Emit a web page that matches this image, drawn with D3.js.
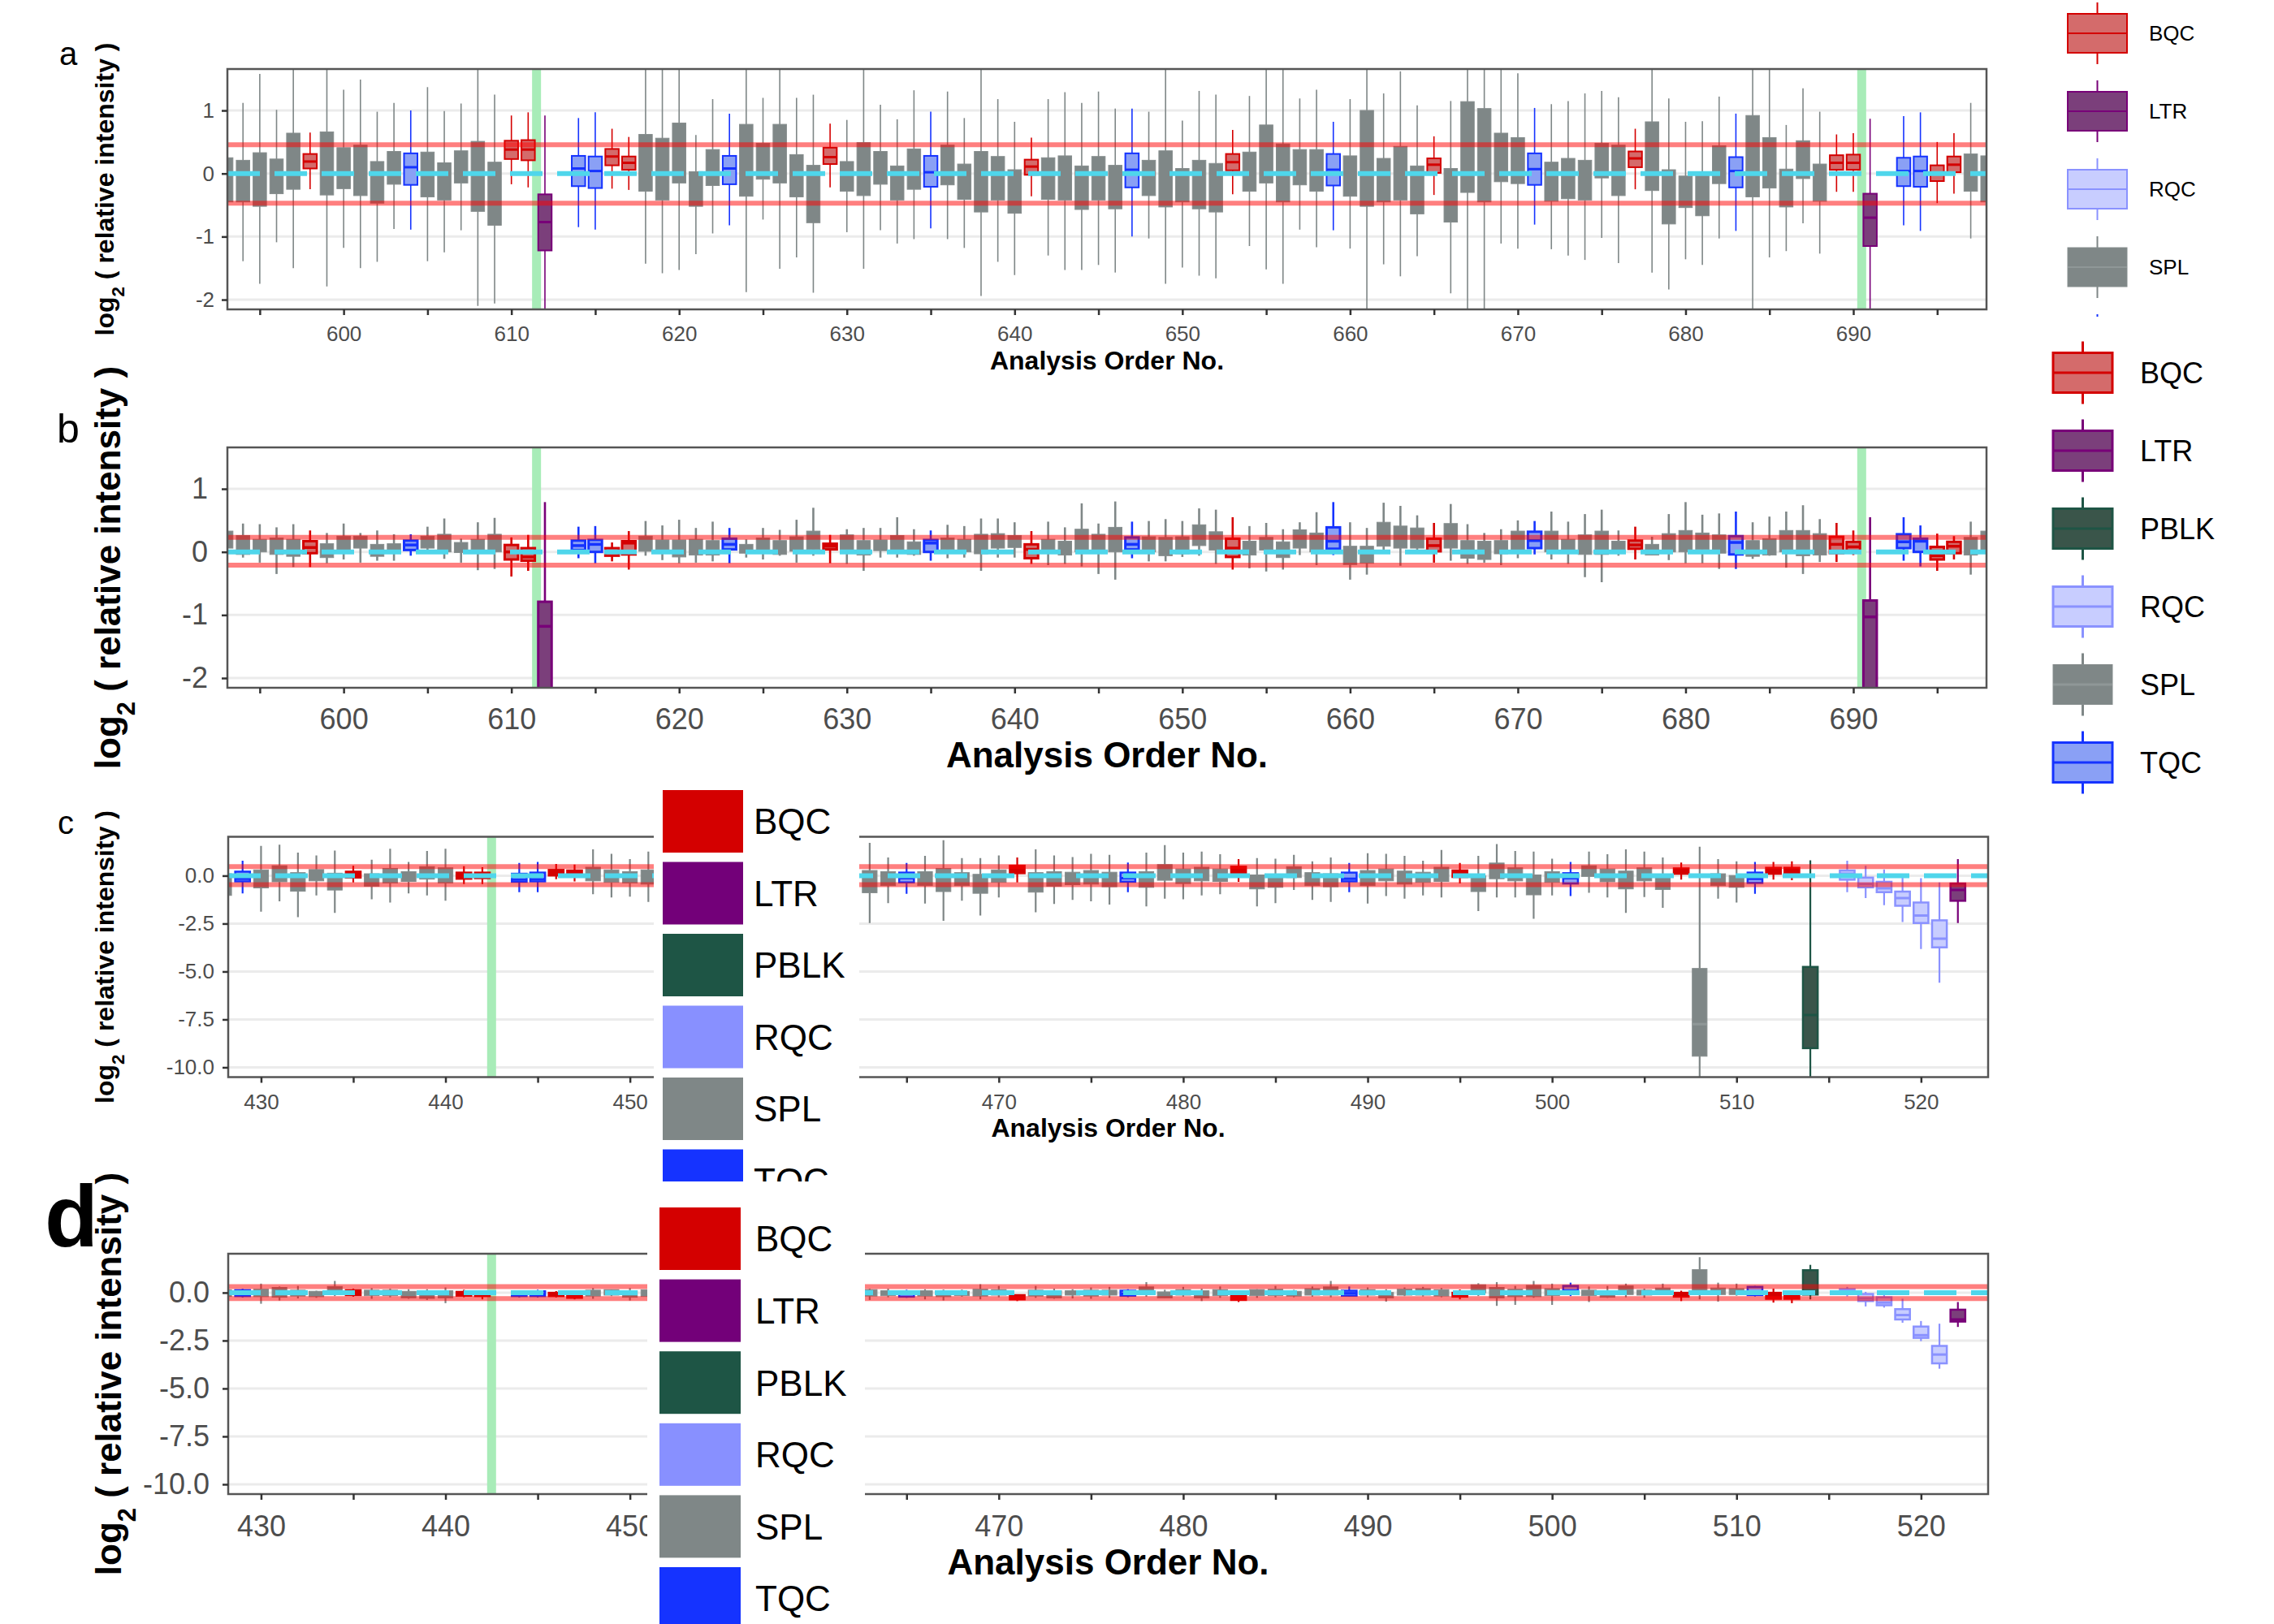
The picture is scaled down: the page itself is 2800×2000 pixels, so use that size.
<!DOCTYPE html>
<html>
<head>
<meta charset="utf-8">
<title>QC boxplots</title>
<style>
body{margin:0;background:#fff}
text{font-family:"Liberation Sans",Arial,Helvetica,sans-serif}
</style>
</head>
<body>
<div id="container"></div>
<script src="https://d3js.org/d3.v7.min.js"></script>
<script>
// rows: [order, type, low, q1, median, q3, high]
// types: B=BQC L=LTR P=PBLK R=RQC S=SPL T=TQC
var panelA = [
[593,"S",-1.2,-0.45,null,0.25,1.0],[594,"S",-1.39,-0.45,null,0.21,1.12],[595,"S",-1.75,-0.52,null,0.33,1.58],
[596,"S",-1.09,-0.32,null,0.23,1.01],[597,"S",-1.5,-0.25,null,0.64,1.8],[598,"B",-0.25,0.08,0.19,0.31,0.65],
[599,"S",-1.79,-0.34,null,0.66,1.8],[600,"S",-1.18,-0.24,null,0.41,1.33],[601,"S",-1.5,-0.35,null,0.45,1.49],
[602,"S",-1.4,-0.47,null,0.19,0.98],[603,"S",-0.88,-0.17,null,0.35,1.12],[604,"T",-0.89,-0.18,0.10,0.32,1.0],
[605,"S",-1.39,-0.37,null,0.34,1.37],[606,"S",-1.25,-0.42,null,0.17,0.99],[607,"S",-0.9,-0.15,null,0.36,1.11],
[608,"S",-2.1,-0.6,null,0.51,1.8],[609,"S",-2.06,-0.82,null,0.18,1.25],[610,"B",-0.17,0.23,0.38,0.52,0.92],
[611,"B",-0.22,0.21,0.38,0.53,0.97],[612,"L",-2.5,-1.22,-0.77,-0.33,0.92],[614,"T",-0.85,-0.2,0.08,0.28,0.88],
[615,"T",-0.89,-0.23,0.04,0.27,0.97],[616,"B",-0.24,0.13,0.27,0.39,0.71],[617,"B",-0.26,0.06,0.17,0.27,0.58],
[618,"S",-1.43,-0.28,null,0.62,1.8],[619,"S",-1.58,-0.42,null,0.56,1.8],[620,"S",-1.53,-0.15,null,0.8,1.8],
[621,"S",-1.28,-0.52,null,0.03,0.61],[622,"S",-0.95,-0.19,null,0.38,1.18],[623,"T",-0.82,-0.17,0.08,0.28,0.95],
[624,"S",-1.88,-0.36,null,0.78,1.8],[625,"S",-0.73,-0.09,null,0.48,1.2],[626,"S",-1.51,-0.15,null,0.78,1.8],
[627,"S",-1.33,-0.37,null,0.3,1.2],[628,"S",-1.89,-0.78,null,0.13,1.25],[629,"B",-0.22,0.15,0.26,0.41,0.79],
[630,"S",-0.93,-0.28,null,0.19,0.85],[631,"S",-1.51,-0.35,null,0.49,1.8],[632,"S",-0.9,-0.17,null,0.35,1.09],
[633,"S",-1.11,-0.42,null,0.12,0.86],[634,"S",-1.04,-0.25,null,0.39,1.32],[635,"T",-0.87,-0.21,0.02,0.28,0.98],
[636,"S",-1.04,-0.18,null,0.45,1.3],[637,"S",-1.18,-0.41,null,0.15,0.88],[638,"S",-1.94,-0.61,null,0.35,1.8],
[639,"S",-1.4,-0.42,null,0.27,1.18],[640,"S",-1.61,-0.63,null,0.06,0.82],[641,"B",-0.36,-0.02,0.11,0.22,0.57],
[642,"S",-1.3,-0.41,null,0.25,1.18],[643,"S",-1.53,-0.42,null,0.28,1.29],[644,"S",-1.53,-0.57,null,0.12,1.12],
[645,"S",-1.45,-0.42,null,0.27,1.3],[646,"S",-1.57,-0.56,null,0.13,1.03],[647,"T",-1.0,-0.22,0.06,0.32,1.03],
[648,"S",-1.03,-0.35,null,0.21,0.98],[649,"S",-1.75,-0.53,null,0.36,1.8],[650,"S",-1.49,-0.45,null,0.08,0.84],
[651,"S",-1.62,-0.56,null,0.21,1.31],[652,"S",-1.66,-0.61,null,0.16,1.25],[653,"B",-0.33,0.05,0.18,0.31,0.69],
[654,"S",-1.15,-0.28,null,0.34,1.23],[655,"S",-1.52,-0.15,null,0.77,1.8],[656,"S",-1.75,-0.45,null,0.47,1.8],
[657,"S",-0.89,-0.18,null,0.38,1.19],[658,"S",-1.17,-0.28,null,0.38,1.33],[659,"T",-0.9,-0.19,0.06,0.31,0.82],
[660,"S",-1.19,-0.36,null,0.28,1.18],[661,"S",-2.5,-0.52,null,1.0,1.8],[662,"S",-1.44,-0.45,null,0.24,1.27],
[663,"S",-1.63,-0.42,null,0.43,1.62],[664,"S",-1.31,-0.64,null,0.12,1.08],[665,"B",-0.34,0.01,0.14,0.24,0.59],
[666,"S",-1.9,-0.77,null,0.08,1.15],[667,"S",-2.5,-0.3,null,1.14,1.8],[668,"S",-2.5,-0.45,null,1.03,1.8],
[669,"S",-1.11,-0.13,null,0.64,1.8],[670,"S",-1.19,-0.16,null,0.57,1.59],[671,"T",-0.81,-0.18,0.07,0.32,1.04],
[672,"S",-1.2,-0.44,null,0.18,1.1],[673,"S",-1.3,-0.4,null,0.24,1.15],[674,"S",-1.37,-0.42,null,0.21,1.27],
[675,"S",-1.02,-0.07,null,0.48,1.31],[676,"S",-1.42,-0.35,null,0.45,1.21],[677,"B",-0.25,0.1,0.24,0.35,0.71],
[678,"S",-1.57,-0.27,null,0.82,1.8],[679,"S",-1.84,-0.8,null,0.06,1.19],[680,"S",-1.36,-0.54,null,-0.04,0.82],
[681,"S",-1.45,-0.67,null,-0.03,0.83],[682,"S",-1.03,-0.16,null,0.44,1.22],[683,"T",-0.91,-0.22,0.04,0.26,0.95],
[684,"S",-2.5,-0.37,null,0.92,1.8],[685,"S",-1.33,-0.23,null,0.57,1.8],[686,"S",-1.23,-0.53,null,0.07,0.77],
[687,"S",-0.79,-0.08,null,0.52,1.35],[688,"S",-1.27,-0.44,null,0.15,0.98],[689,"B",-0.29,0.06,0.17,0.29,0.62],
[690,"B",-0.29,0.06,0.17,0.3,0.64],[691,"L",-2.5,-1.15,-0.7,-0.32,0.87],[693,"T",-0.82,-0.2,0.04,0.25,0.91],
[694,"T",-0.91,-0.21,0.04,0.27,0.97],[695,"B",-0.47,-0.12,0.01,0.13,0.5],[696,"B",-0.32,0.02,0.14,0.27,0.64],
[697,"S",-1.03,-0.28,null,0.31,1.12],[698,"S",-1.2,-0.45,null,0.28,1.1]
]

var panelB = [
[593,"S",-0.1,0.06,null,0.33,0.45],[594,"S",-0.09,-0.04,null,0.26,0.45],[595,"S",-0.17,0,null,0.2,0.44],
[596,"S",-0.35,-0.04,null,0.22,0.39],[597,"S",-0.24,-0.07,null,0.2,0.44],[598,"B",-0.24,-0.02,0.07,0.17,0.34],
[599,"S",-0.18,-0.09,null,0.13,0.3],[600,"S",-0.12,0,null,0.25,0.45],[601,"S",-0.17,0.06,null,0.25,0.3],
[602,"S",-0.14,-0.07,null,0.12,0.34],[603,"S",-0.14,-0.02,null,0.13,0.28],[604,"T",-0.06,0.03,0.11,0.18,0.28],
[605,"S",0,0.06,null,0.25,0.4],[606,"S",-0.11,0,null,0.28,0.53],[607,"S",-0.17,-0.01,null,0.15,0.21],
[608,"S",-0.29,0,null,0.2,0.47],[609,"S",-0.27,0,null,0.28,0.54],[610,"B",-0.39,-0.12,0,0.11,0.23],
[611,"B",-0.3,-0.14,-0.08,0.06,0.27],[612,"L",-2.5,-2.5,-1.18,-0.79,0.79],[614,"T",-0.1,0.03,0.1,0.18,0.4],
[615,"T",-0.18,0,0.12,0.19,0.41],[616,"B",-0.15,-0.06,0,0.06,0.15],[617,"B",-0.28,-0.04,0.14,0.17,0.33],
[618,"S",-0.06,0.01,null,0.25,0.49],[619,"S",-0.13,-0.01,null,0.19,0.42],[620,"S",-0.18,-0.08,null,0.19,0.51],
[621,"S",-0.17,-0.05,null,0.2,0.38],[622,"S",-0.15,-0.05,null,0.18,0.48],[623,"T",-0.18,0.04,0.12,0.21,0.38],
[624,"S",-0.09,-0.02,null,0.12,0.2],[625,"S",-0.12,0,null,0.22,0.38],[626,"S",-0.06,-0.04,null,0.18,0.35],
[627,"S",-0.17,0.01,null,0.24,0.51],[628,"S",-0.06,0.04,null,0.33,0.7],[629,"B",-0.18,0.04,0.09,0.13,0.27],
[630,"S",-0.19,0,null,0.27,0.36],[631,"S",-0.3,-0.05,null,0.18,0.38],[632,"S",-0.09,0.02,null,0.19,0.38],
[633,"S",-0.09,0.02,null,0.26,0.55],[634,"S",-0.06,-0.04,null,0.16,0.36],[635,"T",-0.14,0,0.14,0.19,0.34],
[636,"S",-0.1,0.04,null,0.22,0.43],[637,"S",-0.09,0,null,0.2,0.41],[638,"S",-0.3,-0.03,null,0.28,0.53],
[639,"S",-0.09,0.06,null,0.29,0.53],[640,"S",-0.09,0.07,null,0.26,0.47],[641,"B",-0.19,-0.1,0.04,0.12,0.33],
[642,"S",-0.21,0,null,0.2,0.48],[643,"S",-0.19,-0.05,null,0.17,0.39],[644,"S",-0.23,0,null,0.36,0.77],
[645,"S",-0.35,0,null,0.28,0.45],[646,"S",-0.44,0,null,0.39,0.8],[647,"T",-0.1,0.04,0.12,0.23,0.48],
[648,"S",-0.15,0,null,0.24,0.49],[649,"S",-0.15,-0.06,null,0.23,0.52],[650,"S",-0.08,-0.03,null,0.24,0.49],
[651,"S",-0.06,0.1,null,0.43,0.69],[652,"S",-0.19,0.03,null,0.32,0.67],[653,"B",-0.28,-0.08,0.06,0.21,0.55],
[654,"S",-0.26,-0.05,null,0.17,0.41],[655,"S",-0.31,0.03,null,0.23,0.46],[656,"S",-0.28,-0.09,null,0.16,0.36],
[657,"S",-0.05,0.06,null,0.35,0.47],[658,"S",-0.21,0,null,0.3,0.63],[659,"T",-0.05,0.05,0.17,0.39,0.79],
[660,"S",-0.44,-0.2,null,0.09,0.47],[661,"S",-0.36,-0.18,null,0.09,0.38],[662,"S",0.01,0.09,null,0.47,0.78],
[663,"S",-0.22,0.06,null,0.41,0.73],[664,"S",-0.02,0.06,null,0.38,0.58],[665,"B",-0.17,0.01,0.1,0.21,0.46],
[666,"S",-0.14,0.06,null,0.45,0.76],[667,"S",-0.19,-0.1,null,0.18,0.44],[668,"S",-0.17,-0.12,null,0.17,0.3],
[669,"S",-0.21,-0.03,null,0.18,0.36],[670,"S",-0.1,0,null,0.33,0.5],[671,"T",-0.04,0.06,0.18,0.32,0.49],
[672,"S",-0.12,0,null,0.33,0.64],[673,"S",-0.19,-0.01,null,0.2,0.48],[674,"S",-0.4,-0.04,null,0.27,0.6],
[675,"S",-0.48,-0.04,null,0.33,0.67],[676,"S",-0.06,0,null,0.17,0.34],[677,"B",-0.12,0.05,0.11,0.18,0.4],
[678,"S",-0.05,-0.05,null,0.12,0.24],[679,"S",-0.13,0,null,0.29,0.6],[680,"S",-0.18,0,null,0.34,0.79],
[681,"S",-0.18,0.04,null,0.3,0.59],[682,"S",-0.27,-0.02,null,0.27,0.61],[683,"T",-0.27,-0.04,0.15,0.25,0.64],
[684,"S",-0.11,-0.07,null,0.18,0.47],[685,"S",-0.06,-0.05,null,0.21,0.56],[686,"S",-0.25,0,null,0.34,0.64],
[687,"S",-0.35,-0.06,null,0.34,0.74],[688,"S",-0.16,-0.05,null,0.29,0.52],[689,"B",-0.16,-0.02,0.12,0.24,0.46],
[690,"B",-0.05,0,0.08,0.16,0.34],[691,"L",-2.5,-2.5,-1.03,-0.77,0.55],[693,"T",-0.14,0.06,0.16,0.28,0.55],
[694,"T",-0.23,0,0.17,0.21,0.42],[695,"B",-0.3,-0.12,-0.06,0.08,0.29],[696,"B",-0.12,-0.02,0.09,0.16,0.25],
[697,"S",-0.36,-0.05,null,0.23,0.48],[698,"S",-0.2,0,null,0.33,0.5]
]

var panelC = [
[428,"S",-1.6,-1.03,null,0.1,0.6],[429,"T",-0.92,-0.3,-0.16,0.21,0.78],[430,"S",-1.88,-0.64,null,0.3,1.55],
[431,"S",-1.34,-0.32,null,0.52,1.62],[432,"S",-2.16,-0.81,null,0.16,1.2],[433,"S",-1.03,-0.27,null,0.32,1.06],
[434,"S",-1.94,-0.75,null,0.13,1.31],[435,"B",-0.35,-0.1,0.05,0.21,0.52],[436,"S",-1.23,-0.55,null,0.1,0.83],
[437,"S",-1.4,-0.38,null,0.38,1.4],[438,"S",-0.92,-0.3,null,0.21,0.72],[439,"S",-1.03,-0.18,null,0.47,1.29],
[440,"S",-1.31,-0.38,null,0.41,1.4],[441,"B",-0.44,-0.16,0,0.16,0.49],[442,"B",-0.44,-0.13,0.02,0.16,0.44],
[444,"T",-0.86,-0.32,-0.21,0.1,0.66],[445,"T",-0.86,-0.3,-0.18,0.16,0.72],[446,"B",-0.18,0.01,0.15,0.3,0.61],
[447,"B",-0.3,0.07,0.17,0.27,0.58],[448,"S",-0.97,-0.27,null,0.44,1.37],[449,"S",-1.14,-0.35,null,0.3,1.14],
[450,"S",-1.09,-0.38,null,0.21,0.86],[451,"S",-1.37,-0.44,null,0.3,1.26],
[463,"S",-2.47,-0.89,null,0.27,1.71],[464,"S",-1.43,-0.52,null,0.21,0.95],[465,"T",-0.95,-0.35,-0.13,0.16,0.66],
[466,"S",-1.45,-0.52,null,0.21,1.03],[467,"S",-2.36,-0.83,null,0.38,1.85],[468,"S",-1.31,-0.52,null,0.16,0.92],
[469,"S",-2.08,-0.92,null,0.07,0.92],[470,"S",-1.14,-0.35,null,0.3,1.06],[471,"B",-0.35,0.13,0.3,0.52,0.95],
[472,"S",-1.91,-0.86,null,0.16,1.37],[473,"S",-1.48,-0.55,null,0.21,1.06],[474,"S",-1.26,-0.47,null,0.18,0.97],
[475,"S",-1.34,-0.44,null,0.27,1.14],[476,"S",-1.51,-0.58,null,0.18,1.09],[477,"T",-0.86,-0.32,-0.13,0.16,0.69],
[478,"S",-1.6,-0.61,null,0.21,1.2],[479,"S",-1.2,-0.24,null,0.58,1.6],[480,"S",-1.23,-0.41,null,0.35,1.2],
[481,"S",-1.03,-0.27,null,0.44,1.26],[482,"S",-0.97,-0.3,null,0.35,1.12],[483,"B",-0.32,0.1,0.3,0.47,0.86],
[484,"S",-1.6,-0.69,null,0.04,0.92],[485,"S",-1.43,-0.61,null,0.07,0.89],[486,"S",-0.75,-0.1,null,0.47,1.09],
[487,"S",-1.26,-0.52,null,0.16,0.75],[488,"S",-1.37,-0.58,null,0.1,0.95],[489,"T",-0.86,-0.3,-0.16,0.16,0.66],
[490,"S",-1.45,-0.52,null,0.27,1.17],[491,"S",-1.06,-0.27,null,0.35,1.14],[492,"S",-1.2,-0.44,null,0.24,1.03],
[493,"S",-1.03,-0.35,null,0.18,0.78],[494,"S",-1.14,-0.3,null,0.44,1.34],[495,"B",-0.41,-0.07,0.1,0.27,0.66],
[496,"S",-1.85,-0.83,null,-0.01,1.03],[497,"S",-1.14,-0.16,null,0.66,1.65],[498,"S",-1.14,-0.27,null,0.41,1.29],
[499,"S",-2.25,-1.0,null,0.04,1.26],[500,"S",-1.03,-0.35,null,0.21,0.89],[501,"T",-1.06,-0.41,-0.13,0.13,0.72],
[502,"S",-0.89,-0.04,null,0.52,1.26],[503,"S",-1.14,-0.32,null,0.35,1.12],[504,"S",-1.94,-0.69,null,0.24,1.37],
[505,"S",-1.12,-0.27,null,0.41,1.26],[506,"S",-1.68,-0.72,null,0.01,0.95],[507,"B",-0.21,0.1,0.25,0.38,0.69],
[508,"S",-10.8,-9.42,-7.75,-4.84,1.51],[509,"S",-1.2,-0.52,null,0.1,0.86],[510,"S",-1.4,-0.61,null,0.01,0.75],
[511,"T",-0.95,-0.38,-0.16,0.16,0.72],[512,"B",-0.21,0.1,0.25,0.41,0.72],[513,"B",-0.24,0.1,0.25,0.41,0.75],
[514,"P",-10.8,-9.0,-7.27,-4.76,0.8],[516,"R",-0.86,-0.21,0.1,0.27,0.78],[517,"R",-1.17,-0.61,-0.44,-0.1,0.52],
[518,"R",-1.54,-0.86,-0.66,-0.32,0.32],[519,"R",-2.42,-1.57,-1.17,-0.83,0.07],[520,"R",-3.83,-2.47,-2.08,-1.4,-0.13],
[521,"R",-5.58,-3.74,-3.29,-2.33,-0.35],[522,"L",-2.47,-1.31,-0.75,-0.41,0.86]
]

var panelD = [
[428,"S",-0.3,-0.2,null,0.15,0.3],[429,"T",-0.25,-0.18,-0.1,0.13,0.2],[430,"S",-0.58,-0.21,null,0.18,0.47],
[431,"S",-0.41,-0.24,null,0.27,0.32],[432,"S",-0.3,-0.18,null,0.13,0.35],[433,"S",-0.27,-0.21,null,0.07,0.1],
[434,"S",-0.18,-0.07,null,0.32,0.61],[435,"B",-0.21,-0.13,0,0.13,0.21],[436,"S",-0.32,-0.16,null,0.13,0.24],
[437,"S",-0.24,-0.16,null,0.13,0.21],[438,"S",-0.32,-0.27,null,0.07,0.18],[439,"S",-0.38,-0.3,null,0.1,0.18],
[440,"S",-0.55,-0.27,null,0.1,0.27],[441,"B",-0.24,-0.16,-0.05,0.04,0.15],[442,"B",-0.35,-0.18,-0.1,-0.04,0.1],
[444,"T",-0.25,-0.18,-0.1,0.04,0.12],[445,"T",-0.25,-0.18,-0.08,0.07,0.15],[446,"B",-0.25,-0.18,-0.1,-0.01,0.08],
[447,"B",-0.35,-0.27,-0.18,-0.1,0.1],[448,"S",-0.32,-0.18,null,0.13,0.24],[449,"S",-0.18,-0.13,null,0.16,0.16],
[450,"S",-0.41,-0.24,null,0.1,0.24],[451,"S",-0.35,-0.2,null,0.15,0.3],
[463,"S",-0.38,-0.18,null,0.16,0.21],[464,"S",-0.24,-0.16,null,0.1,0.21],[465,"T",-0.27,-0.21,-0.05,0.07,0.15],
[466,"S",-0.35,-0.18,null,0.1,0.18],[467,"S",-0.41,-0.21,null,0.04,0.16],[468,"S",-0.21,-0.16,null,0.07,0.16],
[469,"S",-0.35,-0.18,null,0.18,0.44],[470,"S",-0.24,-0.13,null,0.16,0.35],[471,"B",-0.44,-0.35,-0.25,-0.13,-0.13],
[472,"S",-0.27,-0.18,null,0.13,0.35],[473,"S",-0.32,-0.27,null,0.1,0.21],[474,"S",-0.3,-0.13,null,0.1,0.18],
[475,"S",-0.32,-0.18,null,0.13,0.27],[476,"S",-0.27,-0.13,null,0.13,0.3],[477,"T",-0.24,-0.16,-0.05,0.1,0.18],
[478,"S",-0.21,-0.1,null,0.3,0.55],[479,"S",-0.27,-0.27,null,0.04,0.15],[480,"S",-0.21,-0.13,null,0.16,0.3],
[481,"S",-0.44,-0.27,null,0.1,0.21],[482,"S",-0.27,-0.16,null,0.16,0.32],[483,"B",-0.49,-0.38,-0.2,-0.04,0.1],
[484,"S",-0.27,-0.16,null,0.16,0.18],[485,"S",-0.24,-0.16,null,0.18,0.35],[486,"S",-0.24,-0.18,null,0.07,0.15],
[487,"S",-0.21,-0.13,null,0.21,0.32],[488,"S",-0.24,-0.13,null,0.3,0.61],[489,"T",-0.21,-0.16,-0.03,0.1,0.32],
[490,"S",-0.24,-0.13,null,0.16,0.27],[491,"S",-0.47,-0.27,null,0.01,0.18],[492,"S",-0.18,-0.13,null,0.18,0.27],
[493,"S",-0.2,-0.13,null,0.21,0.3],[494,"S",-0.24,-0.18,null,0.16,0.24],[495,"B",-0.35,-0.21,-0.1,-0.01,0.16],
[496,"S",-0.18,-0.01,null,0.41,0.49],[497,"S",-0.69,-0.27,null,0.27,0.55],[498,"S",-0.64,-0.21,null,0.18,0.35],
[499,"S",-0.27,-0.21,null,0.38,0.61],[500,"S",-0.64,-0.16,null,0.21,0.47],[501,"T",-0.18,-0.07,0.1,0.35,0.52],
[502,"S",-0.49,-0.16,null,0.13,0.32],[503,"S",-0.27,-0.24,null,0.1,0.35],[504,"S",-0.24,-0.1,null,0.35,0.47],
[505,"S",-0.27,-0.13,null,0.13,0.21],[506,"S",-0.13,-0.1,null,0.24,0.47],[507,"B",-0.44,-0.21,-0.1,-0.01,0.1],
[508,"S",-0.35,-0.07,null,1.2,1.85],[509,"S",-0.47,-0.1,null,0.24,0.52],[510,"S",-0.16,-0.1,null,0.21,0.47],
[511,"T",-0.2,-0.13,0.05,0.3,0.35],[512,"B",-0.52,-0.32,-0.15,-0.01,0.21],[513,"B",-0.55,-0.32,-0.2,-0.13,0.01],
[514,"P",-0.35,-0.1,null,1.17,1.45],[516,"R",-0.2,0.04,0.1,0.18,0.3],[517,"R",-0.72,-0.44,-0.3,-0.07,0.04],
[518,"R",-0.78,-0.66,-0.52,-0.24,-0.13],[519,"R",-1.57,-1.4,-1.17,-0.86,-0.32],[520,"R",-2.53,-2.36,-2.22,-1.77,-1.48],
[521,"R",-3.97,-3.69,-3.23,-2.78,-1.62],[522,"L",-1.79,-1.51,-1.4,-0.89,-0.49]
]

// red control limits per panel
var limitsA = [0.455, -0.47]
var limitsB = [0.23, -0.21]
var limitsC = [0.47, -0.47]
var limitsD = [0.31, -0.31]
// batch break positions (green)
var breaksAB = [611.5, 690.5]
var breaksCD = [442.5]
// tick values
var yTicksAB = [-2, -1, 0, 1]
var yTicksCD = [-10, -7.5, -5, -2.5, 0]
var xTicksAB = [595,600,605,610,615,620,625,630,635,640,645,650,655,660,665,670,675,680,685,690,695]
var xTicksCD = [430,435,440,445,450,455,460,465,470,475,480,485,490,495,500,505,510,515,520]
var xLabelsHiddenCD = [460]   // sits under the overlaid legend
// legends
var legendTopA = ["BQC","LTR","RQC","SPL","TQC"]
var legendTopB = ["BQC","LTR","PBLK","RQC","SPL","TQC"]
var legendFlat = ["BQC","LTR","PBLK","RQC","SPL","TQC"]

var codeName = {B:"BQC",L:"LTR",P:"PBLK",R:"RQC",S:"SPL",T:"TQC"}
var boxStyleAB = {
  BQC:{fill:"#d46b6b",stroke:"#d40000",med:"#d40000"},
  LTR:{fill:"#7b3f7b",stroke:"#780078",med:"#780078"},
  PBLK:{fill:"#3a554a",stroke:"#1e5545",med:"#1e5545"},
  RQC:{fill:"#c8cdff",stroke:"#8a92ff",med:"#8a92ff"},
  SPL:{fill:"#7f8787",stroke:"#868d8d",med:"#8f9797"},
  TQC:{fill:"#8aa0f5",stroke:"#1533ff",med:"#1533ff"}
}
var boxStyleCD = {
  BQC:{fill:"#d40000",stroke:"#d40000",med:"#d40000"},
  LTR:{fill:"#7b3f7b",stroke:"#780078",med:"#780078"},
  PBLK:{fill:"#3a554a",stroke:"#1e5545",med:"#1e5545"},
  RQC:{fill:"#c8cdff",stroke:"#8a92ff",med:"#8a92ff"},
  SPL:{fill:"#7f8787",stroke:"#868d8d",med:"#8f9797"},
  TQC:{fill:"#8aa0f5",stroke:"#1533ff",med:"#1533ff"}
}
var flatColor = {BQC:"#d40000",LTR:"#730079",PBLK:"#1e5545",RQC:"#8890ff",SPL:"#7f8787",TQC:"#1533ff"}

var FONT = '"Liberation Sans",Arial,Helvetica,sans-serif'

var svg = d3.select('#container').append('svg')
  .attr('width', 2800).attr('height', 2000)
svg.append('rect').attr('width', 2800).attr('height', 2000).attr('fill', '#fff')
var defs = svg.append('defs')

function drawPanel(cfg) {
  var x = d3.scaleLinear().domain(cfg.xDomain).range([cfg.x0, cfg.x1])
  var y = d3.scaleLinear().domain(cfg.yDomain).range([cfg.y1, cfg.y0])
  var g = svg.append('g')
  var hidden = cfg.hideLabels || []

  defs.append('clipPath').attr('id', 'clip-' + cfg.id)
    .append('rect')
    .attr('x', cfg.x0).attr('y', cfg.y0)
    .attr('width', cfg.x1 - cfg.x0).attr('height', cfg.y1 - cfg.y0)
  var plot = g.append('g').attr('clip-path', 'url(#clip-' + cfg.id + ')')

  // grid
  plot.selectAll('.grid').data(cfg.yTicks).enter().append('line')
    .attr('x1', cfg.x0).attr('x2', cfg.x1)
    .attr('y1', function(d){ return y(d) }).attr('y2', function(d){ return y(d) })
    .attr('stroke', '#ebebeb').attr('stroke-width', 3)

  // batch breaks
  plot.selectAll('.brk').data(cfg.breaks).enter().append('line')
    .attr('x1', function(d){ return x(d) }).attr('x2', function(d){ return x(d) })
    .attr('y1', cfg.y0).attr('y2', cfg.y1)
    .attr('stroke', '#a8ecb8').attr('stroke-width', 11)

  var hw = x(cfg.xDomain[0] + 0.4) - x(cfg.xDomain[0])
  var st = cfg.styles

  var box = plot.selectAll('.box').data(cfg.rows).enter().append('g')
  box.append('line')
    .attr('x1', function(d){ return x(d[0]) }).attr('x2', function(d){ return x(d[0]) })
    .attr('y1', function(d){ return y(d[2]) }).attr('y2', function(d){ return y(d[6]) })
    .attr('stroke', function(d){ return d[1] === 'S' ? '#7f8787' : st[codeName[d[1]]].stroke })
    .attr('stroke-width', cfg.whiskerW)
  box.append('rect')
    .attr('x', function(d){ return x(d[0]) - hw })
    .attr('width', 2 * hw)
    .attr('y', function(d){ return y(d[5]) })
    .attr('height', function(d){ return Math.max(1, y(d[3]) - y(d[5])) })
    .attr('fill', function(d){ return st[codeName[d[1]]].fill })
    .attr('stroke', function(d){ return st[codeName[d[1]]].stroke })
    .attr('stroke-width', function(d){ return d[1] === 'S' ? 1 : cfg.boxW })
  box.filter(function(d){ return d[4] !== null }).append('line')
    .attr('x1', function(d){ return x(d[0]) - hw }).attr('x2', function(d){ return x(d[0]) + hw })
    .attr('y1', function(d){ return y(d[4]) }).attr('y2', function(d){ return y(d[4]) })
    .attr('stroke', function(d){ return st[codeName[d[1]]].med })
    .attr('stroke-width', cfg.medW)

  // control limits
  plot.selectAll('.lim').data(cfg.limits).enter().append('line')
    .attr('x1', cfg.x0).attr('x2', cfg.x1)
    .attr('y1', function(d){ return y(d) }).attr('y2', function(d){ return y(d) })
    .attr('stroke', '#ff0000').attr('stroke-opacity', 0.5).attr('stroke-width', 6)

  // zero reference
  plot.append('line')
    .attr('x1', cfg.x0).attr('x2', cfg.x1).attr('y1', y(0)).attr('y2', y(0))
    .attr('stroke', '#4fd6eb').attr('stroke-width', 6).attr('stroke-dasharray', '40,18')

  // frame
  g.append('rect')
    .attr('x', cfg.x0).attr('y', cfg.y0)
    .attr('width', cfg.x1 - cfg.x0).attr('height', cfg.y1 - cfg.y0)
    .attr('fill', 'none').attr('stroke', '#555').attr('stroke-width', 2.5)

  // axes
  var xa = g.append('g').attr('transform', 'translate(0,' + cfg.y1 + ')')
    .call(d3.axisBottom(x).tickValues(cfg.xTicks).tickSize(7).tickPadding(cfg.xPad)
      .tickFormat(function(d){ return (d % 10 === 0 && hidden.indexOf(d) < 0) ? String(d) : '' }))
  xa.select('.domain').remove()
  xa.selectAll('line').attr('stroke', '#333').attr('stroke-width', 2.5)
  xa.selectAll('text').attr('font-size', cfg.tickFont).attr('fill', '#4d4d4d').attr('font-family', FONT)

  var ya = g.append('g').attr('transform', 'translate(' + cfg.x0 + ',0)')
    .call(d3.axisLeft(y).tickValues(cfg.yTicks).tickSize(7).tickPadding(cfg.yPad)
      .tickFormat(cfg.yFmt))
  ya.select('.domain').remove()
  ya.selectAll('line').attr('stroke', '#333').attr('stroke-width', 2.5)
  ya.selectAll('text').attr('font-size', cfg.tickFont).attr('fill', '#4d4d4d').attr('font-family', FONT)

  // titles
  g.append('text')
    .attr('x', (cfg.x0 + cfg.x1) / 2).attr('y', cfg.titleY)
    .attr('text-anchor', 'middle').attr('font-weight', 'bold')
    .attr('font-size', cfg.titleFont).attr('fill', '#000')
    .text('Analysis Order No.')

  var yt = g.append('text')
    .attr('transform', 'translate(' + cfg.yTitleX + ',' + ((cfg.y0 + cfg.y1) / 2) + ') rotate(-90)')
    .attr('text-anchor', 'middle').attr('font-weight', 'bold')
    .attr('font-size', cfg.titleFont).attr('fill', '#000')
  yt.append('tspan').text('log')
  yt.append('tspan').attr('font-size', cfg.titleFont * 0.7).attr('baseline-shift', 'sub').text('2')
  yt.append('tspan').text(' ( relative intensity )')

  // panel letter
  svg.append('text')
    .attr('x', cfg.letterX).attr('y', cfg.letterY)
    .attr('font-size', cfg.letterSize)
    .attr('font-weight', cfg.letterBold ? 'bold' : 'normal')
    .attr('fill', '#000')
    .text(cfg.letter)
}

function fmtInt(d){ return String(d) }
function fmtOne(d){ return d.toFixed(1) }

drawPanel({id:'a', rows:panelA, limits:limitsA, breaks:breaksAB, yTicks:yTicksAB, xTicks:xTicksAB, yFmt:fmtInt,
  xDomain:[593.07, 697.94], yDomain:[-2.154, 1.657], x0:280, x1:2446, y0:85, y1:381,
  styles:boxStyleAB, boxW:2, whiskerW:1.6, medW:3,
  tickFont:26, titleFont:32, titleY:455, xPad:14, yPad:9, yTitleX:140,
  letter:'a', letterX:73, letterY:80, letterSize:40, letterBold:false})

drawPanel({id:'b', rows:panelB, limits:limitsB, breaks:breaksAB, yTicks:yTicksAB, xTicks:xTicksAB, yFmt:fmtInt,
  xDomain:[593.07, 697.94], yDomain:[-2.154, 1.657], x0:280, x1:2446, y0:551, y1:847,
  styles:boxStyleAB, boxW:3, whiskerW:2.6, medW:3.5,
  tickFont:36, titleFont:44, titleY:945, xPad:18, yPad:17, yTitleX:148,
  letter:'b', letterX:70, letterY:545, letterSize:50, letterBold:false})

drawPanel({id:'c', rows:panelC, limits:limitsC, breaks:breaksCD, yTicks:yTicksCD, xTicks:xTicksCD, yFmt:fmtOne,
  xDomain:[428.22, 523.64], yDomain:[-10.51, 2.03], x0:281, x1:2448, y0:1030.5, y1:1326.5,
  styles:boxStyleCD, boxW:2.5, whiskerW:2.2, medW:3, hideLabels:xLabelsHiddenCD,
  tickFont:26, titleFont:32, titleY:1400, xPad:14, yPad:10, yTitleX:140,
  letter:'c', letterX:71, letterY:1027, letterSize:40, letterBold:false})

drawPanel({id:'d', rows:panelD, limits:limitsD, breaks:breaksCD, yTicks:yTicksCD, xTicks:xTicksCD, yFmt:fmtOne,
  xDomain:[428.22, 523.64], yDomain:[-10.51, 2.03], x0:281, x1:2448, y0:1544, y1:1840,
  styles:boxStyleCD, boxW:2.5, whiskerW:2.2, medW:3, hideLabels:xLabelsHiddenCD,
  tickFont:36, titleFont:44, titleY:1939, xPad:19, yPad:16, yTitleX:149,
  letter:'d', letterX:55, letterY:1535, letterSize:108, letterBold:true})

// boxplot-key legends (right side)
function boxLegend(o) {
  defs.append('clipPath').attr('id', 'clip-' + o.id).append('rect')
    .attr('x', o.x - 20).attr('y', o.clipTop).attr('width', 300).attr('height', o.clipBottom - o.clipTop)
  var lg = svg.append('g').attr('clip-path', 'url(#clip-' + o.id + ')')
  var items = lg.selectAll('g').data(o.items).enter().append('g')
    .attr('transform', function(d, i){ return 'translate(0,' + (o.top + i * o.step) + ')' })
  items.append('line')
    .attr('x1', o.x + o.w / 2).attr('x2', o.x + o.w / 2)
    .attr('y1', -o.whisk).attr('y2', o.h + o.whisk)
    .attr('stroke', function(d){ return d === 'SPL' ? '#7f8787' : o.styles[d].stroke })
    .attr('stroke-width', o.lw)
  items.append('rect')
    .attr('x', o.x).attr('y', 0).attr('width', o.w).attr('height', o.h)
    .attr('fill', function(d){ return o.styles[d].fill })
    .attr('stroke', function(d){ return o.styles[d].stroke })
    .attr('stroke-width', function(d){ return d === 'SPL' ? 1 : o.lw })
  items.append('line')
    .attr('x1', o.x).attr('x2', o.x + o.w).attr('y1', o.h / 2).attr('y2', o.h / 2)
    .attr('stroke', function(d){ return o.styles[d].med }).attr('stroke-width', o.lw)
  // labels that fall below the clip are not drawn at all
  items.filter(function(d, i){ return o.top + i * o.step + o.h / 2 < o.clipBottom })
    .append('text')
    .attr('x', o.textX).attr('y', o.h / 2).attr('dy', '0.36em')
    .attr('font-size', o.font).attr('fill', '#000')
    .text(function(d){ return d })
}

boxLegend({id:'la', items:legendTopA, styles:boxStyleAB, x:2546, w:73, h:48, top:17, step:96, whisk:14,
  lw:2, textX:2646, font:26, clipTop:0, clipBottom:390})
boxLegend({id:'lb', items:legendTopB, styles:boxStyleAB, x:2528, w:73, h:49, top:434.5, step:96, whisk:14,
  lw:3, textX:2635, font:36, clipTop:400, clipBottom:1000})

// colour-swatch legends placed over panels c and d
function flatLegend(o) {
  defs.append('clipPath').attr('id', 'clip-' + o.id).append('rect')
    .attr('x', o.bx0).attr('y', o.by0).attr('width', o.bx1 - o.bx0).attr('height', o.by1 - o.by0)
  var lg = svg.append('g').attr('clip-path', 'url(#clip-' + o.id + ')')
  lg.append('rect').attr('x', o.bx0).attr('y', o.by0)
    .attr('width', o.bx1 - o.bx0).attr('height', o.by1 - o.by0).attr('fill', '#fff')
  var items = lg.selectAll('g').data(o.items).enter().append('g')
    .attr('transform', function(d, i){ return 'translate(0,' + (o.top + i * o.step) + ')' })
  items.append('rect')
    .attr('x', o.x).attr('y', 0).attr('width', o.w).attr('height', o.h)
    .attr('fill', function(d){ return flatColor[d] })
  items.append('text')
    .attr('x', o.textX).attr('y', o.h / 2).attr('dy', '0.36em')
    .attr('font-size', o.font).attr('fill', '#000')
    .text(function(d){ return d })
}

flatLegend({id:'lc', items:legendFlat, bx0:805, bx1:1058, by0:962, by1:1455,
  x:816, w:99, h:77, top:973, step:88.5, textX:928, font:44})
flatLegend({id:'ld', items:legendFlat, bx0:797, bx1:1065, by0:1478, by1:2000,
  x:812, w:100, h:77, top:1487, step:88.6, textX:930, font:44})
</script>
</body>
</html>
